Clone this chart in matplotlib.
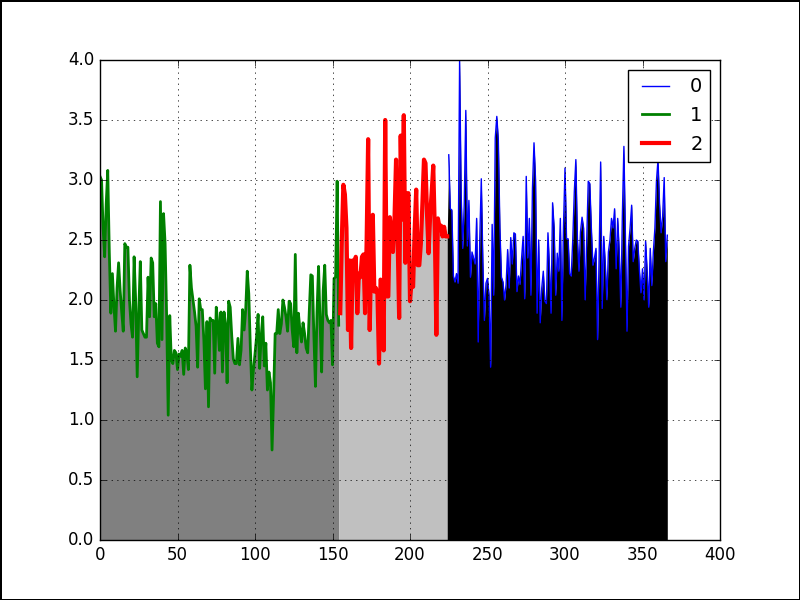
import matplotlib
matplotlib.use("Agg")
import matplotlib.pyplot as plt
import numpy as np

# values, one per day
green_start = 0
green_vals = [
    3.03, 3.00, 2.60, 2.36, 2.80, 3.08, 2.40, 1.89, 2.22, 1.95,
    1.74, 2.10, 2.31, 2.08, 1.90, 1.74, 2.47, 2.44, 2.44, 2.00,
    1.80, 1.69, 2.36, 2.00, 1.36, 1.90, 2.32, 1.75, 1.72, 1.69,
    1.69, 2.19, 1.86, 2.35, 2.31, 1.86, 1.97, 1.64, 1.61, 2.82,
    1.67, 2.72, 2.47, 1.86, 1.04, 1.87, 1.50, 1.47, 1.58, 1.56,
    1.42, 1.55, 1.53, 1.58, 1.38, 1.60, 1.56, 1.42, 2.29, 2.10,
    2.00, 1.90, 1.78, 1.44, 2.01, 1.92, 1.92, 1.67, 1.26, 1.82,
    1.11, 1.85, 1.83, 1.83, 1.39, 1.94, 1.81, 1.58, 1.90, 1.40,
    1.90, 1.80, 1.31, 1.99, 1.94, 1.70, 1.51, 1.47, 1.47, 1.68,
    1.46, 1.58, 1.92, 1.75, 1.92, 2.24, 2.05, 1.60, 1.25, 1.42,
    1.55, 1.69, 1.88, 1.43, 1.70, 1.86, 1.45, 1.64, 1.25, 1.40,
    1.31, 0.75, 1.20, 1.72, 1.72, 1.92, 1.72, 1.80, 2.00, 1.94,
    1.86, 1.74, 1.99, 1.97, 1.75, 1.61, 2.38, 1.56, 1.89, 1.75,
    1.65, 1.81, 1.72, 1.60, 1.56, 1.90, 2.21, 2.20, 1.70, 1.28,
    1.90, 2.28, 1.80, 1.40, 2.08, 2.29, 1.88, 1.83, 1.81, 1.83,
    1.46, 2.18, 2.19, 2.99, 1.79,
]

red_start = 155
red_vals = [
    1.89, 2.50, 2.96, 2.88, 2.60, 1.75, 2.33, 1.60, 2.33, 2.20,
    2.36, 1.89, 2.22, 2.19, 2.36, 2.38, 1.89, 2.47, 3.34, 1.75,
    2.40, 2.71, 2.07, 2.10, 2.05, 1.47, 2.17, 2.15, 1.58, 3.50,
    2.03, 2.03, 2.69, 2.54, 2.40, 2.68, 3.17, 2.53, 1.85, 3.37,
    2.67, 3.54, 2.31, 2.89, 2.89, 1.99, 2.15, 2.11, 2.58, 2.92,
    2.29, 2.29, 2.47, 2.80, 3.17, 3.14, 2.71, 2.39, 2.71, 2.90,
    3.12, 2.58, 1.71, 2.68, 2.61, 2.62, 2.53, 2.61, 2.53, 2.53,
]

blue_start = 225
blue_vals = [
    3.21, 2.76, 2.75, 2.20, 2.15, 2.22, 2.14, 3.99, 2.88, 2.43,
    2.80, 3.58, 2.45, 2.83, 2.19, 2.40, 2.35, 2.30, 2.68, 1.65,
    2.50, 3.01, 2.32, 1.83, 2.14, 2.18, 2.04, 1.44, 2.63, 2.04,
    3.35, 3.53, 3.33, 2.60, 2.19, 2.15, 2.00, 2.13, 2.42, 2.10,
    2.52, 2.30, 2.56, 2.55, 2.07, 2.20, 2.13, 2.35, 2.53, 2.01,
    3.03, 2.35, 2.68, 2.04, 2.93, 3.31, 3.00, 1.89, 2.50, 1.81,
    2.10, 2.24, 1.99, 1.97, 2.56, 2.26, 1.89, 2.81, 2.60, 2.04,
    2.39, 2.24, 2.68, 1.83, 2.60, 3.10, 2.51, 2.51, 2.22, 2.20,
    2.50, 2.90, 3.17, 2.51, 2.24, 2.57, 2.69, 2.60, 2.00, 2.50,
    2.99, 2.97, 2.60, 2.29, 2.35, 2.43, 1.67, 2.35, 3.15, 1.93,
    2.53, 2.30, 2.00, 2.40, 2.50, 2.68, 2.60, 2.76, 2.26, 2.68,
    2.40, 1.94, 2.70, 3.28, 2.50, 1.74, 2.45, 2.60, 2.79, 2.32,
    2.43, 2.50, 2.49, 2.25, 2.06, 2.26, 2.00, 2.49, 2.24, 1.94,
    2.43, 2.12, 2.40, 2.60, 2.99, 3.17, 2.80, 2.56, 2.70, 3.02,
    2.32, 2.54,
]

plt.style.use("classic")

x_green = np.arange(green_start, green_start + len(green_vals))
x_red = np.arange(red_start, red_start + len(red_vals))
x_blue = np.arange(blue_start, blue_start + len(blue_vals))

fig, ax = plt.subplots(figsize=(8, 6), dpi=100)
fig.patch.set_facecolor("white")
fig.patch.set_edgecolor("black")
fig.patch.set_linewidth(2)

# each filled band starts where the previous one stops, so no white seam
ax.fill_between(x_green, 0, green_vals, color="gray", linewidth=0)
ax.fill_between(np.r_[x_green[-1], x_red], 0, np.r_[green_vals[-1], red_vals],
                color="silver", linewidth=0)
ax.fill_between(np.r_[x_red[-1], x_blue], 0, np.r_[red_vals[-1], blue_vals],
                color="black", linewidth=0)

ax.plot(x_blue, blue_vals, color="blue", linewidth=1, label="0")
ax.plot(x_green, green_vals, color="green", linewidth=2, label="1")
ax.plot(x_red, red_vals, color="red", linewidth=3, label="2")

ax.set_xlim(0, 400)
ax.set_ylim(0, 4)
ax.grid(True)
ax.legend(loc="upper right", fontsize=14)

fig.savefig("out.png", dpi=100, facecolor="white", edgecolor="black")
